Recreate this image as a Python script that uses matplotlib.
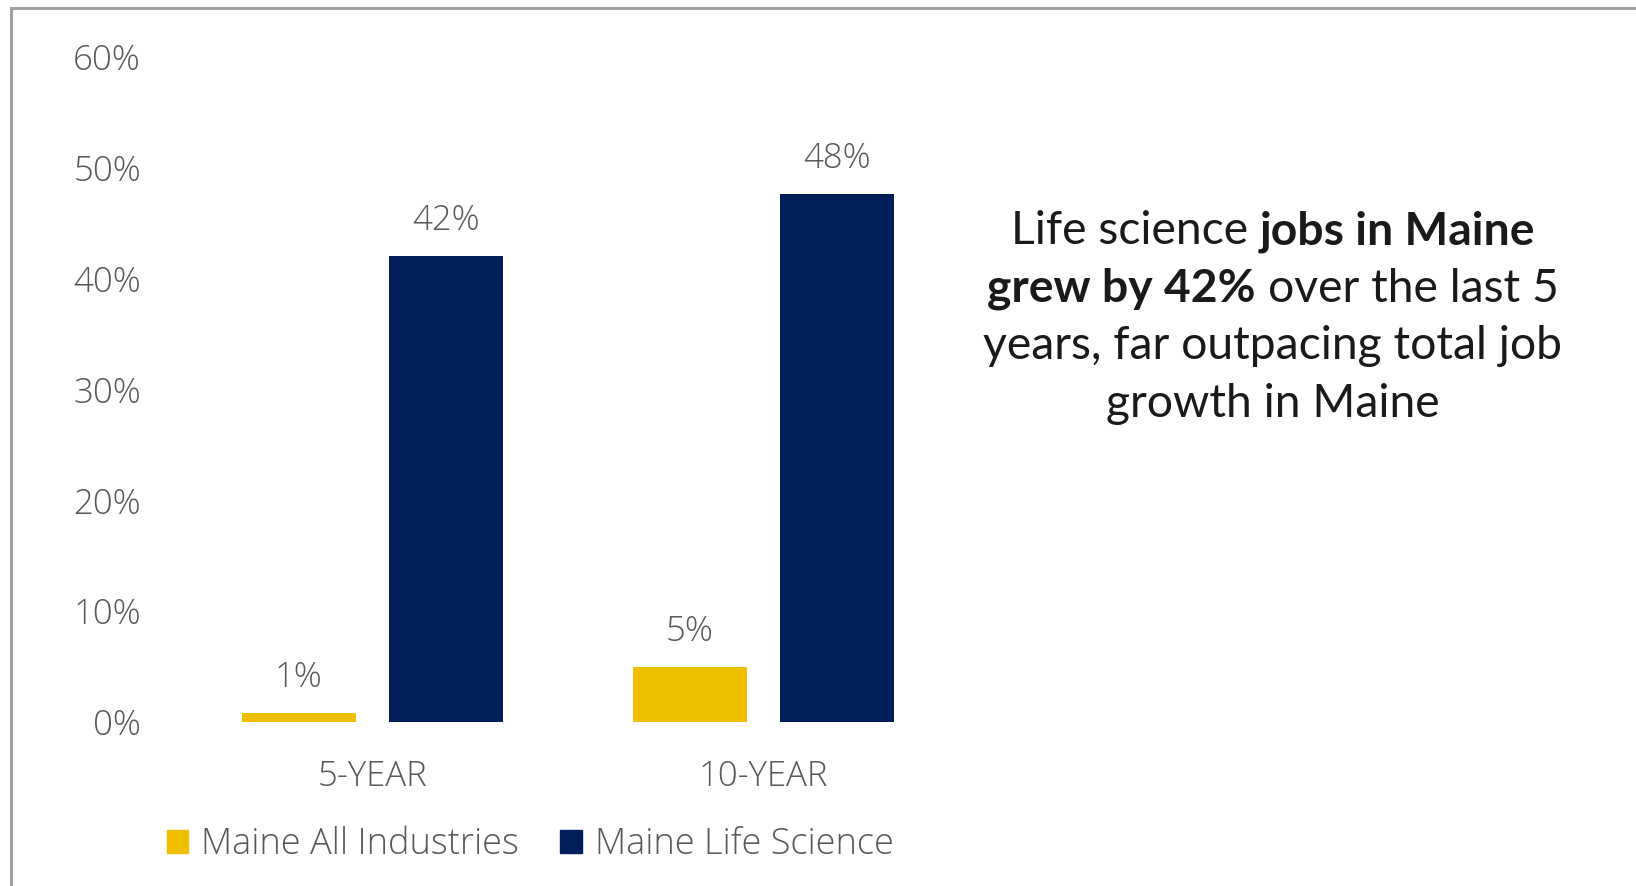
import numpy as np
import matplotlib
matplotlib.use('Agg')
import matplotlib.pyplot as plt
from matplotlib.patches import Patch
from matplotlib.lines import Line2D

# data
periods = ['5-YEAR', '10-YEAR']
all_industries = [0.008, 0.050]
life_science = [0.420, 0.476]
series_names = ['Maine All Industries', 'Maine Life Science']
yticks = [0, 0.1, 0.2, 0.3, 0.4, 0.5, 0.6]

W, H = 1636, 886
yellow = '#EEC000'
navy = '#001E5A'
gray = '#595959'

fig = plt.figure(figsize=(W / 100, H / 100), dpi=100)
# axes placed in pixel space: x from 177 to 959, y from 722 (0%) to 57 (60%)
ax = fig.add_axes([177 / W, 1 - 722 / H, (959 - 177) / W, (722 - 57) / H])

x = np.arange(len(periods))
bw = 0.294
off = 0.188
b1 = ax.bar(x - off, all_industries, bw, color=yellow)
b2 = ax.bar(x + off, life_science, bw, color=navy)

for bars, vals in [(b1, all_industries), (b2, life_science)]:
    for rect, v in zip(bars, vals):
        ax.annotate(f'{v * 100:.0f}%', (rect.get_x() + rect.get_width() / 2, v),
                    xytext=(0, 13), textcoords='offset points', ha='center', va='bottom',
                    fontsize=25, color=gray, family='Open Sans', fontweight='light')

ax.set_xlim(-0.5, 1.5)
ax.set_ylim(0, 0.6)
ax.set_xticks(x)
ax.set_xticklabels(periods)
ax.set_yticks(yticks)
ax.set_yticklabels([f'{t * 100:.0f}%' for t in yticks])
for lab in ax.get_xticklabels() + ax.get_yticklabels():
    lab.set_family('Open Sans')
    lab.set_fontweight('light')
    lab.set_fontsize(25)
    lab.set_color(gray)
ax.tick_params(axis='both', length=0)
ax.tick_params(axis='y', pad=26)
ax.tick_params(axis='x', pad=27)
for s in ax.spines.values():
    s.set_visible(False)

# legend
handles = [Patch(color=yellow), Patch(color=navy)]
leg = fig.legend(handles, series_names, loc='center', bbox_to_anchor=(530 / W, 1 - 845 / H),
                 ncol=2, frameon=False, handlelength=0.6, handleheight=0.6,
                 handletextpad=0.35, columnspacing=1.15,
                 prop={'family': 'Open Sans', 'weight': 'light', 'size': 26})
for t in leg.get_texts():
    t.set_color(gray)

# frame lines of the slide
fig.add_artist(Line2D([11 / W, 1], [1 - 8 / H, 1 - 8 / H], color='#9CA1A4', lw=2.2,
                      transform=fig.transFigure))
fig.add_artist(Line2D([11 / W, 11 / W], [0, 1 - 8 / H], color='#9CA1A4', lw=2.2,
                      transform=fig.transFigure))

# annotation text with mixed weights, centered lines
lines = [
    [('Life science ', 'normal'), ('jobs in Maine', 'bold')],
    [('grew by 42%', 'bold'), (' over the last 5', 'normal')],
    [('years, far outpacing total job', 'normal')],
    [('growth in Maine', 'normal')],
]
cx = 1273
line_y = [227, 285, 342, 400]
fs = 33.3
fig.canvas.draw()
renderer = fig.canvas.get_renderer()


def width_of(s, weight):
    t = fig.text(0, 0, s, fontsize=fs, family='Lato', fontweight=weight)
    w = t.get_window_extent(renderer).width
    t.remove()
    return w


for segs, yy in zip(lines, line_y):
    widths = []
    for s, wt in segs:
        core = s.strip()
        w = width_of(core, wt)
        nsp = len(s) - len(s.lstrip()) + len(s) - len(s.rstrip())
        sp = width_of('x x', wt) - width_of('xx', wt)
        widths.append((core, wt, w, nsp * sp, s.startswith(' ')))
    total = sum(w + e for _, _, w, e, _ in widths)
    xx = cx - total / 2
    for core, wt, w, extra, lead in widths:
        if lead:
            xx += extra
        fig.text(xx / W, 1 - yy / H, core, fontsize=fs, family='Lato', fontweight=wt,
                 color='#1A1A1A', ha='left', va='center_baseline')
        xx += w
        if not lead:
            xx += extra

fig.savefig('out.png', dpi=100)
